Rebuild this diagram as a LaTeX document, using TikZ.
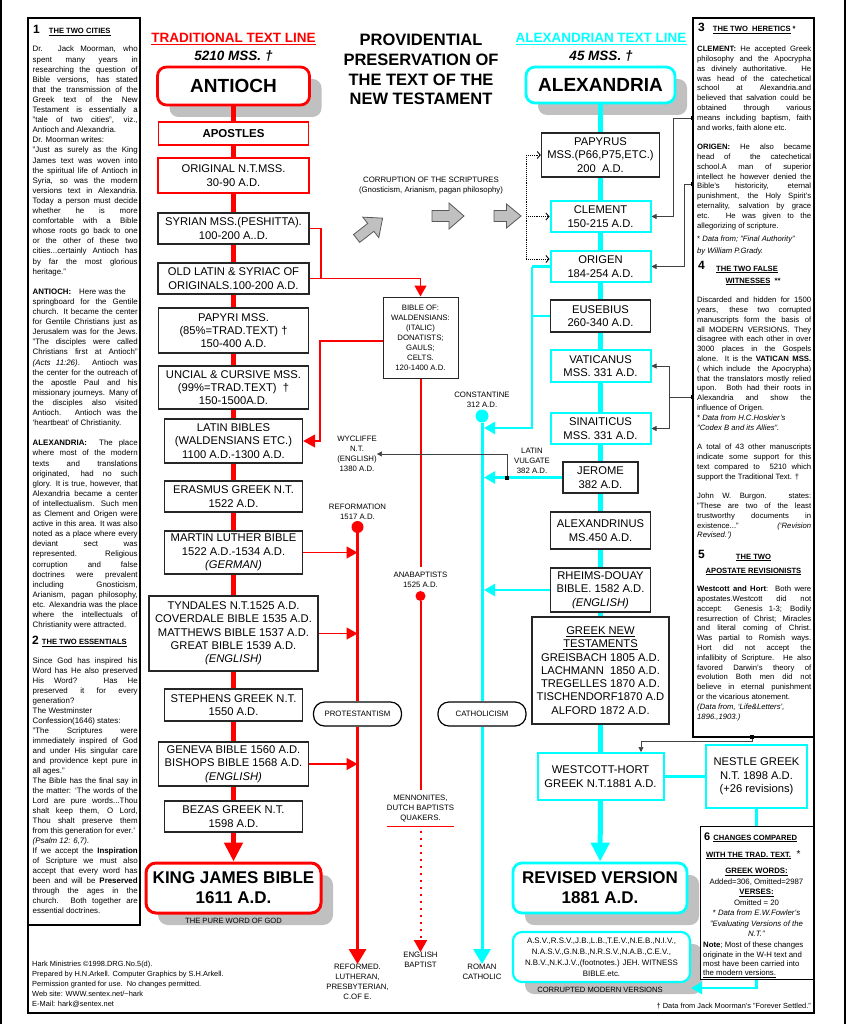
\documentclass[tikz,border=0pt]{standalone}
\usepackage{fontspec}
\setmainfont{Liberation Sans}
\usepackage{tikz}
\usetikzlibrary{arrows.meta,shadows}

\definecolor{cyn}{RGB}{0,255,255}
\definecolor{shade}{RGB}{192,192,192}

\newcommand\bxf{\fontsize{11.2}{13.3}\selectfont}
\newcommand\lbf{\fontsize{7.8}{10}\selectfont}
\newcommand\colf{\fontsize{7.9}{10.1}\selectfont\parindent=0pt}
\newcommand\colfb{\fontsize{7.9}{10}\selectfont\parindent=0pt}
\newcommand\rcolf{\fontsize{7.7}{9.8}\selectfont\parindent=0pt}
\newcommand\hdf{\fontsize{7.6}{9}\selectfont\bfseries}
\newcommand\numf{\fontsize{12}{12}\selectfont\bfseries}
\newcommand\jb{\linebreak}

\tikzset{
  every node/.style={inner sep=0pt},
  mss/.style={draw=black!85, line width=1.4pt, fill=white, align=center, font=\bxf},
  tradmss/.style={mss, draw=red},
  alexmss/.style={mss, draw=cyn, line width=2pt},
  city/.style={rounded corners=9pt, line width=2.8pt, fill=white, align=center,
    drop shadow={shadow xshift=12pt, shadow yshift=-12pt, fill=shade, opacity=1}},
  tag/.style={align=center, font=\lbf},
  pill/.style={draw, line width=1.2pt, fill=white, rounded corners=11pt,
    minimum width=88, minimum height=24, font=\lbf},
  trunk/.style={line width=5pt},
  branch/.style={line width=1.5pt},
  thinlink/.style={draw=black!75, line width=0.6pt},
  jsq/.style={fill=black, minimum size=3.2},
  blob/.style={circle, minimum size=#1},
  blockarrow/.style={draw=black!65, fill=shade, line width=0.8pt, line join=miter},
  coltext/.style={anchor=north west, align=justify, font=\colf, text width=105},
  rcoltext/.style={anchor=north west, align=justify, font=\rcolf, text width=114},
  bigtip/.style={-{Triangle[length=15pt,width=17pt]}},
  midtip/.style={-{Triangle[length=11pt,width=12pt]}},
  smalltip/.style={-{Triangle[length=5pt,width=5pt]}},
  dottip/.style={densely dotted, line width=0.9pt, -{Straight Barb[length=3pt,width=7pt]}}
}

\begin{document}
\begin{tikzpicture}[x=1pt, y=-1pt]
\useasboundingbox (0,0) rectangle (846,1024);

% page edges and frames
\draw[shade, line width=2pt] (1,0) -- (1,1024);
\draw[shade, line width=2pt] (845,0) -- (845,1024);
\draw[line width=1.2pt] (28,18) rectangle (140,925);
\draw[line width=1.2pt] (693,18) rectangle (814,737);
\draw[line width=1.2pt] (28,925) -- (28,1013) -- (814,1013) -- (814,737);

% titles
\node[align=center, font=\bfseries\fontsize{16.5}{19.7}\selectfont] (title) at (421,69.5)
  {PROVIDENTIAL\\PRESERVATION OF\\THE TEXT OF THE\\NEW TESTAMENT};
\node[text=red, font=\bfseries\fontsize{13.5}{14}\selectfont] (tradhead) at (233.5,39)
  {\underline{TRADITIONAL TEXT LINE}};
\node[font=\bfseries\itshape\fontsize{13.5}{14}\selectfont] (tradnum) at (233.5,56) {5210 MSS. †};
\node[text=cyn, font=\bfseries\fontsize{13.5}{14}\selectfont] (alexhead) at (601,39)
  {\underline{ALEXANDRIAN TEXT LINE}};
\node[font=\bfseries\itshape\fontsize{13.5}{14}\selectfont] (alexnum) at (601,56) {45 MSS. †};

%% traditional line
\node[city, draw=red, font=\bfseries\fontsize{19}{19}\selectfont, minimum width=152, minimum height=38] (antioch) at (233.5,86) {ANTIOCH};
\node[tradmss, line width=1.6pt, font=\bfseries\fontsize{11.5}{13}\selectfont, minimum width=150, minimum height=23] (apostles) at (233.5,133.5) {APOSTLES};
\node[tradmss, line width=2.2pt, minimum width=151, minimum height=35] (orig) at (233.5,175.5) {ORIGINAL N.T.MSS.\\30-90 A.D.};
\node[mss, minimum width=151, minimum height=31] (syrian) at (233.5,228.5) {SYRIAN MSS.(PESHITTA).\\100-200 A..D.};
\node[mss, minimum width=151, minimum height=31] (oldlatin) at (233.5,278.5) {OLD LATIN \& SYRIAC OF\\ORIGINALS.100-200 A.D.};
\node[mss, minimum width=150, minimum height=45] (papyri) at (233.5,330.5) {PAPYRI MSS.\\(85\%=TRAD.TEXT) †\\150-400 A.D.};
\node[mss, minimum width=150, minimum height=43] (uncial) at (233.5,387.5) {UNCIAL \& CURSIVE MSS.\\(99\%=TRAD.TEXT)\ \ †\\150-1500A.D.};
\node[mss, minimum width=138, minimum height=44] (latin) at (233.5,441) {LATIN BIBLES\\(WALDENSIANS ETC.)\\1100 A.D.-1300 A.D.};
\node[mss, minimum width=138, minimum height=31] (erasmus) at (233.5,496.5) {ERASMUS GREEK N.T.\\1522 A.D.};
\node[mss, minimum width=138, minimum height=43] (luther) at (233.5,552.5) {MARTIN LUTHER BIBLE\\1522 A.D.-1534 A.D.\\\textit{(GERMAN)}};
\node[mss, minimum width=169, minimum height=75] (tyndale) at (233.5,633.5) {TYNDALES N.T.1525 A.D.\\COVERDALE BIBLE 1535 A.D.\\MATTHEWS BIBLE 1537 A.D.\\GREAT BIBLE 1539 A.D.\\\textit{(ENGLISH)}};
\node[mss, minimum width=138, minimum height=32] (stephens) at (233.5,705) {STEPHENS GREEK N.T.\\1550 A.D.};
\node[mss, minimum width=150, minimum height=44] (geneva) at (233.5,764) {GENEVA BIBLE 1560 A.D.\\BISHOPS BIBLE 1568 A.D.\\\textit{(ENGLISH)}};
\node[mss, minimum width=138, minimum height=31] (bezas) at (233.5,816.5) {BEZAS GREEK N.T.\\1598 A.D.};
\node[city, draw=red, line width=3pt, rounded corners=10pt, font=\bfseries\fontsize{17}{20}\selectfont, minimum width=175, minimum height=50] (kjb) at (233.5,888) {KING JAMES BIBLE\\1611 A.D.};
\node[font=\fontsize{7.6}{8}\selectfont] (pure) at (233.5,921) {THE PURE WORD OF GOD};

\foreach \a/\b in {antioch/apostles, apostles/orig, orig/syrian, syrian/oldlatin, oldlatin/papyri,
  papyri/uncial, uncial/latin, latin/erasmus, erasmus/luther, luther/tyndale, tyndale/stephens,
  stephens/geneva, geneva/bezas}
  \draw[trunk, red] (\a) -- (\b);
\draw[trunk, red, -{Triangle[length=19pt,width=18pt]}] (bezas) -- (kjb);

% waldensian branch
\node[mss, line width=1pt, font=\lbf, minimum width=75, minimum height=81] (bibleof) at (420.5,337.5)
  {BIBLE OF:\\WALDENSIANS:\\(ITALIC)\\DONATISTS;\\GAULS;\\CELTS.\\120-1400 A.D.};
\coordinate (j1) at (321,278.5);
\coordinate (j2) at (320,341);
\draw[branch, red] (syrian) -| (j1);
\draw[branch, red, midtip] (oldlatin) -| (bibleof);
\draw[branch, red, -{Triangle[length=12pt,width=13pt]}] (bibleof.west |- j2) -- (j2) |- (latin);

% anabaptists
\node[tag] (anatag) at (420.5,580) {ANABAPTISTS\\1525 A.D.};
\node[blob=10, fill=red] (anadot) at (420.5,596) {};
\node[tag] (menno) at (420.5,809) {MENNONITES,\\DUTCH BAPTISTS\\QUAKERS.};
\node[tag] (engbap) at (420.5,960) {ENGLISH\\BAPTIST};
\draw[red, line width=2pt, shorten >=5pt] (bibleof) -- (anatag);
\draw[red, line width=2pt, shorten >=5pt] (anadot) -- (menno);
\draw[red, line width=1.5pt] ([yshift=-4pt]menno.south west) -- ([yshift=-4pt]menno.south east);
\draw[red, line width=2pt, dash pattern=on 2pt off 5pt, shorten <=8pt, -{Triangle[length=12pt,width=13pt]}] (menno) -- (engbap);

% reformation
\node[tag] (reftag) at (357.5,512) {REFORMATION\\1517 A.D.};
\node[blob=12, fill=red] (refdot) at (357.5,527) {};
\node[pill] (protest) at (357.5,714) {PROTESTANTISM};
\node[tag] (reformed) at (357.5,982) {REFORMED.\\LUTHERAN,\\PRESBYTERIAN,\\C.OF E.};
\draw[red, line width=3pt] (refdot) -- (protest);
\draw[red, line width=3pt, bigtip] (protest) -- (reformed);
\foreach \b in {luther, tyndale, geneva}
  \draw[branch, red, midtip] (\b) -- (\b -| refdot);

% wycliffe
\node[tag] (wyc) at (357,454) {WYCLIFFE\\N.T.\\(ENGLISH)\\1380 A.D.};

% constantine
\node[tag] (contag) at (482,400) {CONSTANTINE\\312 A.D.};
\node[blob=13, fill=cyn] (condot) at (482,416) {};
\node[pill] (cath) at (482,714) {CATHOLICISM};
\node[tag] (roman) at (482,972) {ROMAN\\CATHOLIC};
\draw[cyn, line width=3pt] (condot) -- (cath);
\draw[cyn, line width=3pt, bigtip] (cath) -- (roman);

%% alexandrian line
\node[city, draw=cyn, font=\bfseries\fontsize{19}{19}\selectfont, minimum width=149, minimum height=36] (alex) at (600.5,85) {ALEXANDRIA};
\node[mss, minimum width=118, minimum height=44] (papyrus) at (600.5,155) {PAPYRUS\\MSS.(P66,P75,ETC.)\\200\ \ A.D.};
\node[alexmss, minimum width=100, minimum height=31] (clement) at (600.5,216.5) {CLEMENT\\150-215 A.D.};
\node[alexmss, minimum width=100, minimum height=31] (origen) at (600.5,266.5) {ORIGEN\\184-254 A.D.};
\node[mss, minimum width=100, minimum height=32] (eusebius) at (600.5,316) {EUSEBIUS\\260-340 A.D.};
\node[alexmss, minimum width=100, minimum height=32] (vatic) at (600.5,366) {VATICANUS\\MSS. 331 A.D.};
\node[alexmss, minimum width=100, minimum height=31] (sinai) at (600.5,428.5) {SINAITICUS\\MSS. 331 A.D.};
\node[mss, minimum width=75, minimum height=31] (jerome) at (600.5,477.5) {JEROME\\382 A.D.};
\node[mss, minimum width=100, minimum height=37] (alexandrinus) at (600.5,530.5) {ALEXANDRINUS\\MS.450 A.D.};
\node[mss, minimum width=100, minimum height=44] (rheims) at (600.5,590) {RHEIMS-DOUAY\\BIBLE. 1582 A.D.\\\textit{(ENGLISH)}};
\node[mss, minimum width=137, minimum height=107] (gnt) at (600.5,670.5) {\underline{GREEK NEW}\\\underline{TESTAMENTS}\\GREISBACH 1805 A.D.\\LACHMANN\ \ 1850 A.D.\\TREGELLES 1870 A.D.\\TISCHENDORF1870 A.D\\ALFORD 1872 A.D.};
\node[alexmss, minimum width=126, minimum height=47] (wh) at (600.5,776.5) {WESTCOTT-HORT\\GREEK N.T.1881 A.D.};
\node[alexmss, minimum width=101, minimum height=63] (nestle) at (756.5,776.5) {NESTLE GREEK\\N.T. 1898 A.D.\\(+26 revisions)};
\node[city, draw=cyn, font=\bfseries\fontsize{17}{20}\selectfont, minimum width=174, minimum height=50] (rv) at (600,888) {REVISED VERSION\\1881 A.D.};
\node[city, draw=cyn, line width=2.2pt, font=\fontsize{7.9}{11}\selectfont, minimum width=177, minimum height=50] (asv) at (601.5,957)
  {A.S.V.,R.S.V.,J.B.,L.B.,T.E.V.,N.E.B.,N.I.V.,\\N.A.S.V.,G.N.B.,N.R.S.V.,N.A.B.,C.E.V.,\\N.B.V.,N.K.J.V.,(footnotes.) JEH. WITNESS\\BIBLE.etc.};
\node[font=\fontsize{7.6}{8}\selectfont] (corrupted) at (600,990) {CORRUPTED MODERN VERSIONS};

\foreach \a/\b in {alex/papyrus, papyrus/clement, clement/origen, origen/eusebius, eusebius/vatic,
  vatic/sinai, sinai/jerome, jerome/alexandrinus, alexandrinus/rheims, rheims/gnt, gnt/wh}
  \draw[trunk, cyn] (\a) -- (\b);
\draw[trunk, cyn, -{Triangle[length=19pt,width=18pt]}] (wh) -- (rv);

% alexandrian branches into the catholic line
\coordinate (cb) at (532,266.5);
\coordinate (c1) at (484,428);
\draw[cyn, line width=2.5pt] (origen) -- (cb);
\draw[cyn, line width=2.5pt] (eusebius) -- (eusebius -| cb);
\draw[cyn, line width=2.5pt, midtip] (cb) |- (c1);
\draw[cyn, line width=2.5pt, midtip] (jerome) -- (jerome -| c1);
\draw[cyn, line width=2.5pt, midtip] (rheims) -- (rheims -| c1);

% vulgate and wycliffe
\node[tag] (vulg) at (532,461) {LATIN\\VULGATE\\382 A.D.};
\node[jsq] (vsq) at (507,478) {};
\draw[thinlink, smalltip] (vsq) |- (wyc);

% corruption of the scriptures
\node[tag] (corr) at (431,185.5) {CORRUPTION OF THE SCRIPTURES\\(Gnosticism, Arianism, pagan philosophy)};
\draw[blockarrow, shift={(370,228)}, rotate=38]
  (-17,-5) -- (1,-5) -- (1,-13) -- (16,0) -- (1,13) -- (1,5) -- (-17,5) -- cycle;
\draw[blockarrow, shift={(448,216)}]
  (-16,-5.5) -- (1,-5.5) -- (1,-13) -- (16,0) -- (1,13) -- (1,5.5) -- (-16,5.5) -- cycle;
\draw[blockarrow, shift={(507.5,216)}]
  (-13.5,-5.5) -- (-1,-5.5) -- (-1,-12) -- (13.5,0) -- (-1,12) -- (-1,5.5) -- (-13.5,5.5) -- cycle;
\coordinate (g3) at (521,216.5);
\coordinate (d1) at (526,155);
\coordinate (d2) at (526,259);
\draw[densely dotted, line width=0.9pt] (d1) -- (d2);
\draw[dottip] (d1) -- (papyrus);
\draw[dottip] (d2) -- (d2 -| origen.west);
\draw[dottip, shorten <=5pt] (g3) -- (clement);

% links from the heretics and witnesses notes
\node[jsq] (m1) at (692.5,118) {};
\node[jsq] (m2) at (692.5,184) {};
\node[jsq] (m3) at (692.5,397) {};
\node[jsq] (m4) at (752,737) {};
\coordinate (k1) at (673,216.5);
\coordinate (k2) at (684,266.5);
\coordinate (k3) at (669,397);
\coordinate (k4) at (641,741);
\draw[thinlink, smalltip] (m1) -| (k1) -- (clement);
\draw[thinlink, smalltip] (m2) -| (k2) -- (origen);
\draw[thinlink] (m3) -- (k3);
\draw[thinlink, smalltip] (k3) |- (vatic);
\draw[thinlink, smalltip] (k3) |- (sinai);
\draw[thinlink, smalltip] (m4) |- (k4) -- (k4 |- wh.north);

% nestle
\coordinate (c9) at (691,988);
\draw[cyn, line width=2.5pt] (wh) -- (nestle);
\draw[cyn, line width=2.5pt, midtip] (nestle) |- (c9);

%% left column
\node[anchor=base west] (h1) at (33,34) {{\numf 1}\hspace{9pt}{\hdf\underline{THE TWO CITIES}}};
\node[coltext] (cities) at (32.5,46) {%
Dr. Jack Moorman, who\jb
spent many years in\jb
researching the question of\jb
Bible versions, has stated\jb
that the transmission of the\jb
Greek text of the New\jb
Testament is essentially a\jb
"tale of two cities", viz.,\jb
Antioch and Alexandria.\\
Dr. Moorman writes:\\
"Just as surely as the King\jb
James text was woven into\jb
the spiritual life of Antioch in\jb
Syria, so was the modern\jb
versions text in Alexandria.\jb
Today a person must decide\jb
whether he is more\jb
comfortable with a Bible\jb
whose roots go back to one\jb
or the other of these two\jb
cities...certainly Antioch has\jb
by far the most glorious\jb
heritage."\par\vspace{10.1pt}
\textbf{ANTIOCH:}\quad Here was the\\
springboard for the Gentile\jb
church. It became the center\jb
for Gentile Christians just as\jb
Jerusalem was for the Jews.\jb
"The disciples were called\jb
Christians first at Antioch"\jb
\textit{(Acts 11:26)}. Antioch was\jb
the center for the outreach of\jb
the apostle Paul and his\jb
missionary journeys. Many of\jb
the disciples also visited\jb
Antioch. Antioch was the\jb
`heartbeat' of Christianity.\par\vspace{10.1pt}
\textbf{ALEXANDRIA:}\ \ The place\jb
where most of the modern\jb
texts and translations\jb
originated, had no such\jb
glory. It is true, however, that\jb
Alexandria became a center\jb
of intellectualism. Such men\jb
as Clement and Origen were\jb
active in this area. It was also\jb
noted as a place where every\jb
deviant sect was\jb
represented. Religious\jb
corruption and false\jb
doctrines were prevalent\jb
including Gnosticism,\jb
Arianism, pagan philosophy,\jb
etc. Alexandria was the place\jb
where the intellectuals of\jb
Christianity were attracted.};
\node[anchor=base west] (h2) at (32,644.5) {{\numf 2}\hspace{3pt}{\hdf\underline{THE TWO ESSENTIALS}}};
\node[coltext, font=\colfb] (essentials) at (32.5,658) {%
Since God has inspired his\jb
Word has He also preserved\jb
His Word? Has He\jb
preserved it for every\jb
generation?\\
The Westminster\\
Confession(1646) states:\\
"The Scriptures were\jb
immediately inspired of God\jb
and under His singular care\jb
and providence kept pure in\jb
all ages."\\
The Bible has the final say in\jb
the matter: `The words of the\jb
Lord are pure words...Thou\jb
shalt keep them, O Lord,\jb
Thou shalt preserve them\jb
from this generation for ever.'\\
\textit{(Psalm 12: 6,7)}.\\
If we accept the \textbf{Inspiration}\jb
of Scripture we must also\jb
accept that every word has\jb
been and will be \textbf{Preserved}\jb
through the ages in the\jb
church. Both together are\jb
essential doctrines.};
\node[anchor=north west, align=left, font=\fontsize{7.4}{10}\selectfont] (credits) at (32,960.5)
  {Hark Ministries ©1998.DRG.No.5(d).\\Prepared by H.N.Arkell. Computer Graphics by S.H.Arkell.\\Permission granted for use.\ \ No changes permitted.\\Web site: WWW.sentex.net/\textasciitilde hark\\E-Mail: hark@sentex.net};

%% right column
\node[anchor=base west] (h3) at (698,32) {{\numf 3}\hspace{8pt}{\hdf\underline{THE TWO\ \ HERETICS}\ *}};
\node[rcoltext] (heretics) at (697,46) {%
\textbf{CLEMENT:} He accepted Greek\jb
philosophy and the Apocrypha\jb
as divinely authoritative. He\jb
was head of the catechetical\jb
school at Alexandria.and\jb
believed that salvation could be\jb
obtained through various\jb
means including baptism, faith\jb
and works, faith alone etc.\par\vspace{9.8pt}
\textbf{ORIGEN:} He also became\jb
head of\ \ the catechetical\jb
school.A man of superior\jb
intellect he however denied the\jb
Bible's historicity, eternal\jb
punishment, the Holy Spirit's\jb
eternality, salvation by grace\jb
etc. He was given to the\jb
allegorizing of scripture.\par\vspace{4pt}
* \textit{Data from; "Final Authority"}\\[2pt]
\textit{by William P.Grady.}};
\node[anchor=base west] (h4) at (698,269) {\numf 4};
\node[anchor=base, align=center, font=\hdf] (h4t) at (747,283)
  {\underline{THE TWO FALSE}\\[3pt]\hspace{12pt}\underline{WITNESSES}\ \ **};
\node[rcoltext] (witnesses) at (697,297) {%
Discarded and hidden for 1500\jb
years, these two corrupted\jb
manuscripts form the basis of\jb
all MODERN VERSIONS. They\jb
disagree with each other in over\jb
3000 places in the Gospels\jb
alone. It is the \textbf{VATICAN MSS.}\jb
( which include\ \ the Apocrypha)\jb
that the translators mostly relied\jb
upon. Both had their roots in\jb
Alexandria and show the\jb
influence of Origen.\\
** \textit{Data from H.C.Hoskier's}\\
\textit{"Codex B and its Allies".}\par\vspace{9.8pt}
A total of 43 other manuscripts\jb
indicate some support for this\jb
text compared to\ \ 5210 which\jb
support the Traditional Text. †\par\vspace{9.8pt}
John W. Burgon. states:\jb
"These are two of the least\jb
trustworthy documents in\jb
existence..." \textit{(`Revision}\jb
\textit{Revised.')}};
\node[anchor=base west] (h5) at (698,558) {\numf 5};
\node[anchor=base, align=center, font=\hdf] (h5t) at (753.5,573)
  {\underline{THE TWO}\\[5pt]\underline{APOSTATE REVISIONISTS}};
\node[rcoltext] (apostates) at (697,586) {%
\textbf{Westcott and Hort}:\ \ Both were\jb
apostates.Westcott did not\jb
accept:\ \ Genesis 1-3; Bodily\jb
resurrection of Christ; Miracles\jb
and literal coming of Christ.\jb
Was partial to Romish ways.\jb
Hort did not accept the\jb
infallibity of Scripture. He also\jb
favored Darwin's theory of\jb
evolution Both men did not\jb
believe in eternal punishment\jb
or the vicarious atonement.\\
\textit{(Data from, `Life\&Letters',}\\
\textit{1896.,1903.)}};

% changes box
\node[draw, line width=0.9pt, fill=white, minimum width=113, minimum height=153] (chg) at (756.5,902.5) {};
\node[anchor=base west] (chgA) at (704,840) {{\fontsize{11}{11}\selectfont\bfseries 6}\hspace{3pt}{\hdf\underline{CHANGES COMPARED}}};
\node[anchor=base west] (chgB) at (706,857) {{\hdf\underline{WITH THE TRAD. TEXT.}}\ \ *};
\node[align=center, anchor=north, font=\fontsize{7.8}{10.5}\selectfont] (chgC) at (756.5,868)
  {\textbf{\underline{GREEK WORDS:}}\\Added=306, Omitted=2987\\\textbf{\underline{VERSES:}}\\Omitted = 20\\* \textit{Data from E.W.Fowler's}\\\textit{"Evaluating Versions of the}\\\textit{N.T."}};
\node[anchor=north west, align=left, font=\fontsize{7.8}{9.3}\selectfont] (chgD) at (703,942)
  {\textbf{Note}; Most of these changes\\originate in the W-H text and\\most have been carried into\\\underline{the modern versions.}};

\node[anchor=base east, font=\fontsize{7.4}{9}\selectfont] (fnote) at (811,1008) {† Data from Jack Moorman's "Forever Settled."};
\end{tikzpicture}
\end{document}
